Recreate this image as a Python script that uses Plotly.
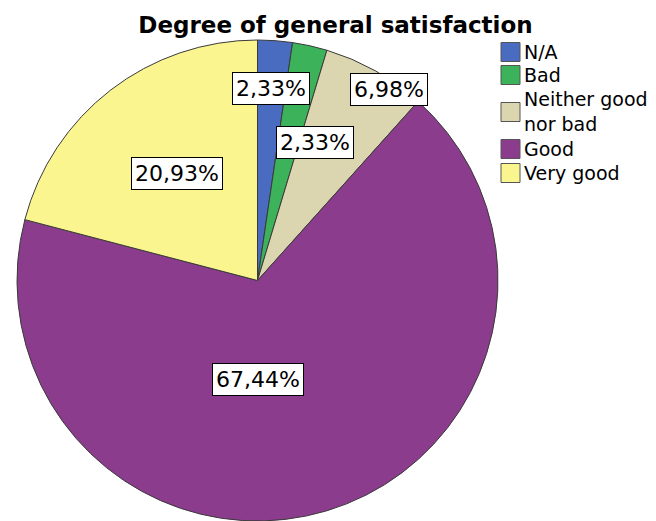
import math
import plotly.graph_objects as go

# ---- data ----
categories = ["N/A", "Bad", "Neither good nor bad", "Good", "Very good"]
percentages = [2.33, 2.33, 6.98, 67.44, 20.93]
label_texts = ["2,33%", "2,33%", "6,98%", "67,44%", "20,93%"]

# ---- style ----
colors = ["#4a6cc0", "#3cb35a", "#dcd6b0", "#8c3c8c", "#faf58e"]
# label placement: fraction of radius, angular nudge (degrees)
label_rfrac = [0.80, 0.62, 0.965, 0.41, 0.558]
label_nudge = [-0.2, 10.1, 5.2, 16.4, 0.9]
# legend layout (pixels from top) and line wrapping
legend_lines = [["N/A"], ["Bad"], ["Neither good", "nor bad"], ["Good"], ["Very good"]]
legend_row_y = [52, 75, 112, 149, 173]
legend_box_x = 501
legend_box_size = 19
legend_text_x = 522

W, H = 656, 521
FONT = "DejaVu Sans"
dom_x = [17.0 / W, 498.0 / W]
dom_y = [0.0, (H - 40) / H]

fig = go.Figure(go.Pie(
    labels=categories,
    values=percentages,
    sort=False,
    direction="clockwise",
    rotation=0,
    marker=dict(colors=colors, line=dict(color="#3a3a3a", width=1)),
    textinfo="none",
    hoverinfo="label+percent",
    domain=dict(x=dom_x, y=dom_y),
    showlegend=False,
))

# slice labels, placed from the slice angles
cx = (dom_x[0] + dom_x[1]) / 2 * W
cy = H - (dom_y[0] + dom_y[1]) / 2 * H
R = min((dom_x[1] - dom_x[0]) * W, (dom_y[1] - dom_y[0]) * H) / 2
total = sum(percentages)
cum = 0.0
annotations = []
for v, t, rf, nd in zip(percentages, label_texts, label_rfrac, label_nudge):
    mid = (cum + v / 2) / total * 360.0 + nd
    cum += v
    th = math.radians(mid)
    px = cx + rf * R * math.sin(th)
    py = cy - rf * R * math.cos(th)
    annotations.append(dict(
        x=px / W, y=1 - py / H, xref="paper", yref="paper",
        text=t, showarrow=False,
        font=dict(family=FONT, size=22, color="black"),
        bgcolor="white", bordercolor="black", borderwidth=1, borderpad=3,
        xanchor="center", yanchor="middle",
    ))

# legend (swatches + text)
shapes = []
for col, lines, ry in zip(colors, legend_lines, legend_row_y):
    s = legend_box_size
    shapes.append(dict(
        type="rect", xref="paper", yref="paper",
        x0=legend_box_x / W, x1=(legend_box_x + s) / W,
        y0=1 - (ry + s / 2) / H, y1=1 - (ry - s / 2) / H,
        fillcolor=col, line=dict(color="#555555", width=1),
    ))
    annotations.append(dict(
        x=legend_text_x / W, y=1 - ry / H, xref="paper", yref="paper",
        text="<br>".join(lines), showarrow=False,
        xanchor="left", yanchor="middle", align="left",
        font=dict(family=FONT, size=19, color="black"),
    ))

fig.update_layout(
    width=W, height=H,
    margin=dict(l=0, r=0, t=0, b=0),
    paper_bgcolor="white",
    plot_bgcolor="white",
    title=dict(text="<b>Degree of general satisfaction</b>",
               x=335.5 / W, xanchor="center", y=1 - 25 / H, yanchor="middle",
               font=dict(family=FONT, size=23, color="black")),
    showlegend=False,
    annotations=annotations,
    shapes=shapes,
)

fig.write_html("out.html", config={"displayModeBar": False},
               post_script="document.body.style.margin='0px';")
